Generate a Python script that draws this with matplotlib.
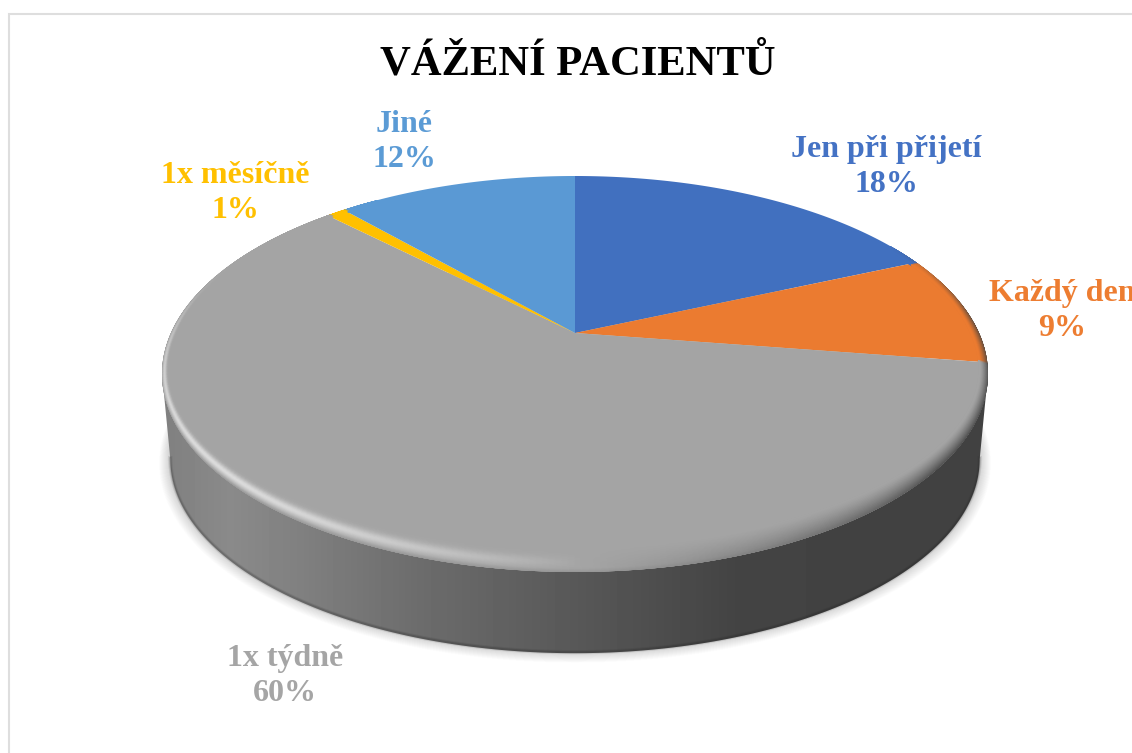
import numpy as np
import matplotlib
matplotlib.use("Agg")
import matplotlib.pyplot as plt
from matplotlib.collections import LineCollection
from matplotlib.patches import Polygon

# Data (shares, labels show them rounded)
categories = ['Jen při přijetí', 'Každý den', '1x týdně', '1x měsíčně', 'Jiné']
values = [18.4, 9.0, 60.2, 0.9, 11.5]
title = 'VÁŽENÍ PACIENTŮ'

colors = ['#4170BF', '#EB7B30', '#A4A4A4', '#FFC000', '#5A99D4']
label_colors = ['#4472C4', '#ED7D31', '#A5A5A5', '#FFC000', '#5B9BD5']
label_pos = [(886, 167), (1062, 311), (285, 676), (235, 193), (404, 142)]

# Perspective of the disc, in pixels
CX, CY = 575, 333
A, B, K = 404.0, 189.5, 0.207
SIDE_DY = 86
SIDE_SCALE = 0.98


def project(theta, rho=1.0, scale=1.0, dy=0.0):
    # theta is clockwise from 12 o'clock, in radians
    u = rho * np.sin(theta)
    v = rho * np.cos(theta)
    w = 1 + K * v
    return CX + scale * A * u / w, CY + dy - scale * B * v / w


fig = plt.figure(figsize=(11.32, 7.53), dpi=100)
ax = fig.add_axes([0, 0, 1, 1])
ax.set_axis_off()

# Chart frame
ax.plot([8.5, 8.5, 1132], [753, 13.5, 13.5], color='#DEDEDE', lw=1.5, solid_joinstyle='miter')

# Soft shadow under the disc
full = np.linspace(0, 2 * np.pi, 500)
for i in range(24):
    grow = 1.028 - i * 0.0012
    sx, sy = project(full, scale=SIDE_SCALE * grow, dy=SIDE_DY + 3 - i * 0.2)
    ax.fill(sx, sy, color='#000000', alpha=0.0065, lw=0)

# Side wall with horizontal gradient
theta_e = np.arccos(-K)
arc = np.linspace(theta_e, 2 * np.pi - theta_e, 400)
tx, ty = project(arc)
bx, by = project(arc, scale=SIDE_SCALE, dy=SIDE_DY)
side = Polygon(np.column_stack([np.r_[tx, bx[::-1]], np.r_[ty, by[::-1]]]),
               closed=True, transform=ax.transData, facecolor='none', edgecolor='none')
ax.add_patch(side)
grad_x = np.arange(150, 1000)
grad_g = np.interp(grad_x, [165, 230, 300, 420, 575, 740, 990],
                   [0x80, 0x8A, 0x80, 0x6C, 0x58, 0x43, 0x42]) / 255
im = ax.imshow(grad_g[np.newaxis, :], cmap='gray', vmin=0, vmax=1, aspect='auto',
               extent=[150, 1000, 700, 300], zorder=1.5)
im.set_clip_path(side)

# Dark line along the bottom edge of the wall
for lw, al in [(3.0, 0.10), (1.5, 0.18)]:
    ax.plot(bx, by - 1, color='#202020', alpha=al, lw=lw, zorder=1.6)

# Top face slices
edges = np.cumsum([0] + values) / sum(values) * 2 * np.pi
for i in range(len(values)):
    th = np.linspace(edges[i], edges[i + 1], max(3, int(values[i] * 6)))
    px, py = project(th)
    ax.fill(np.r_[CX, px], np.r_[CY, py], color=colors[i], lw=0, zorder=2)

fx, fy = project(full)
top_face = Polygon(np.column_stack([fx, fy]), closed=True, transform=ax.transData,
                   facecolor='none', edgecolor='none')
ax.add_patch(top_face)

# Bevel on the rim, painted from the outer edge inwards
rim_th = np.radians(np.arange(60, 325, 0.75))
slice_idx = np.clip(np.searchsorted(edges, rim_th, side='right') - 1, 0, len(values) - 1)
base = np.array([matplotlib.colors.to_rgb(colors[j]) for j in slice_idx])
deg = np.degrees(rim_th)
light = np.clip(np.cos(np.radians(deg - 232) * 1.7), 0, 1) ** 0.8
light = np.where(np.abs(deg - 232) > 53, 0, light)
left_tail = np.clip((292 - deg) / 30, 0, 1) * (deg > 232)
light = np.maximum(light, 0.45 * left_tail)
dark = np.clip((178 - deg) / 50, 0, 1) * np.clip((deg - 60) / 25, 0, 1)
front = np.clip(-np.cos(rim_th), 0, 1) ** 1.2
edge_fade = np.clip((290 - deg) / 30, 0, 1) * (deg > 98)

for s in np.linspace(0, 1, 30):
    x, y = project(rim_th, rho=1 - 0.02 * s, dy=-19 * s * front)
    hi = np.exp(-((s - 0.42) / 0.24) ** 2) * light * 0.62
    lo = (1 - s) ** 1.3 * dark * 0.9
    edge = np.clip(1 - s / 0.18, 0, 1) * (1 - dark) * 0.3 * edge_fade
    col = base * (1 - hi[:, None]) + hi[:, None]
    col = col * (1 - lo[:, None]) + np.array([0.26, 0.26, 0.26]) * lo[:, None]
    col = col * (1 - edge[:, None]) + np.array([0.45, 0.45, 0.45]) * edge[:, None]
    pts = np.column_stack([x, y])
    segs = np.stack([pts[:-1], pts[1:]], axis=1)
    lc = LineCollection(segs, colors=col[:-1], linewidths=1.6, capstyle='round', zorder=2.5)
    ax.add_collection(lc)
    lc.set_clip_path(top_face)

# Labels
for i in range(len(values)):
    ax.text(label_pos[i][0], label_pos[i][1], f'{categories[i]}\n{values[i]:.0f}%',
            color=label_colors[i], family='Liberation Serif', weight='bold', fontsize=23,
            ha='center', va='center', linespacing=1.3, zorder=4, clip_on=True)

ax.text(577.5, 64, title, color='black', family='Liberation Serif', weight='bold',
        fontsize=30.7, ha='center', va='center', zorder=4)

ax.set_xlim(0, 1132)
ax.set_ylim(753, 0)
fig.savefig('out.png', dpi=100, facecolor='white')
